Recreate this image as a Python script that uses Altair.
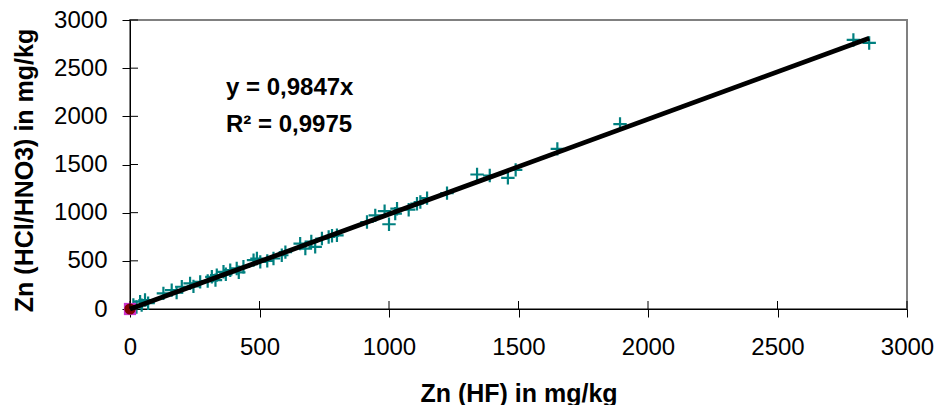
import altair as alt
import pandas as pd

# Teal "+" series: Zn (HF) vs Zn (HCl/HNO3), mg/kg
hf = [13, 25, 39, 45, 58, 70, 129, 161, 180, 200, 232, 245, 271, 300, 316, 330, 335, 361,
      370, 387, 412, 420, 438, 477, 490, 503, 530, 554, 586, 600, 657, 677, 700, 715, 741,
      767, 780, 799, 915, 947, 983, 1000, 1024, 1031, 1076, 1108, 1121, 1147, 1224, 1340,
      1389, 1459, 1489, 1650, 1892, 2793, 2854]
aqua = [41, 20, 76, 40, 93, 60, 162, 196, 170, 231, 266, 235, 282, 290, 334, 300, 352, 386,
        360, 403, 421, 380, 438, 507, 524, 489, 500, 524, 558, 590, 679, 627, 700, 645, 731,
        748, 760, 765, 903, 972, 1015, 880, 990, 1041, 1031, 1093, 1110, 1151, 1203, 1396,
        1386, 1362, 1444, 1662, 1920, 2793, 2762]

# Other series, all at the origin
origin_series = ["yellow", "magenta", "darkred"]
origin_x = [0, 0, 0]
origin_y = [0, 0, 0]

# Trendline y = 0,9847x through the origin
slope = 0.9847
trend_x = [0, 2854]

ticks = [0, 500, 1000, 1500, 2000, 2500, 3000]
annotation = ["y = 0,9847x", "R² = 0,9975"]

FONT = "Liberation Sans"
W, H = 777, 289

pts = pd.DataFrame({"hf": hf, "aqua": aqua})
trend = pd.DataFrame({"hf": trend_x})
org = pd.DataFrame({"s": origin_series, "hf": origin_x, "aqua": origin_y})
tk = pd.DataFrame({"v": ticks})

xs = alt.Scale(domain=[0, 3000], nice=False, zero=False)
ys = alt.Scale(domain=[0, 3000], nice=False, zero=False)

xaxis = alt.Axis(values=ticks, title="Zn (HF) in mg/kg", grid=False, format="d",
                 domainColor="black", tickColor="black", tickSize=8,
                 labelFont=FONT, labelFontSize=24, labelColor="black", labelPadding=18,
                 titleFont=FONT, titleFontSize=25, titleFontWeight="bold", titleColor="black",
                 titleBaseline="alphabetic", titleY=92, labelFlush=False)
yaxis = alt.Axis(values=ticks, title="Zn (HCl/HNO3) in mg/kg", grid=False, format="d",
                 domainColor="black", tickColor="black", tickSize=8,
                 labelFont=FONT, labelFontSize=24, labelColor="black", labelPadding=15,
                 titleFont=FONT, titleFontSize=25, titleFontWeight="bold", titleColor="black",
                 titleBaseline="alphabetic", titleX=-98, titleY=150, labelFlush=False)

base_pts = alt.Chart(pts).mark_point(
    shape="M-1,0H1M0,-1V1", size=180, filled=False, color="#008080", strokeWidth=2.2, opacity=1
).encode(
    x=alt.X("hf:Q", scale=xs, axis=xaxis),
    y=alt.Y("aqua:Q", scale=ys, axis=yaxis),
)

origin_layers = []
shapes = {"yellow": ("triangle-up", 110, "#FFFF00"), "magenta": ("square", 150, "#CC33CC"),
          "darkred": ("circle", 125, "#800000")}
for name in origin_series:
    shp, sz, col = shapes[name]
    origin_layers.append(
        alt.Chart(org).transform_filter(alt.datum.s == name).mark_point(
            shape=shp, size=sz, filled=True, color=col, opacity=1
        ).encode(x=alt.X("hf:Q", scale=xs), y=alt.Y("aqua:Q", scale=ys))
    )

trend_line = alt.Chart(trend).transform_calculate(
    aqua=f"datum.hf * {slope}"
).mark_line(color="black", strokeWidth=4.8).encode(
    x=alt.X("hf:Q", scale=xs), y=alt.Y("aqua:Q", scale=ys)
)

inner_y_ticks = alt.Chart(tk).mark_rule(color="black", strokeWidth=1).encode(
    y=alt.Y("v:Q", scale=ys), x=alt.value(0), x2=alt.value(8)
)
inner_x_ticks = alt.Chart(tk).mark_rule(color="black", strokeWidth=1).encode(
    x=alt.X("v:Q", scale=xs), y=alt.value(H - 8), y2=alt.value(H)
)

text = alt.Chart(pd.DataFrame({"t": [0]})).mark_text(
    text=annotation, align="left", baseline="alphabetic", font=FONT, fontSize=24,
    fontWeight="bold", color="black", lineHeight=37
).encode(x=alt.value(96), y=alt.value(75))

chart = alt.layer(
    base_pts, *origin_layers, trend_line, inner_y_ticks, inner_x_ticks, text
).properties(
    width=W, height=H,
    autosize=alt.AutoSizeParams(type="none"),
    padding={"left": 122, "top": 12, "right": 28, "bottom": 96},
    background="white",
).configure_view(
    stroke="#808080", strokeWidth=2
)

chart.save("out.html", embed_options={"renderer": "svg", "actions": False})
